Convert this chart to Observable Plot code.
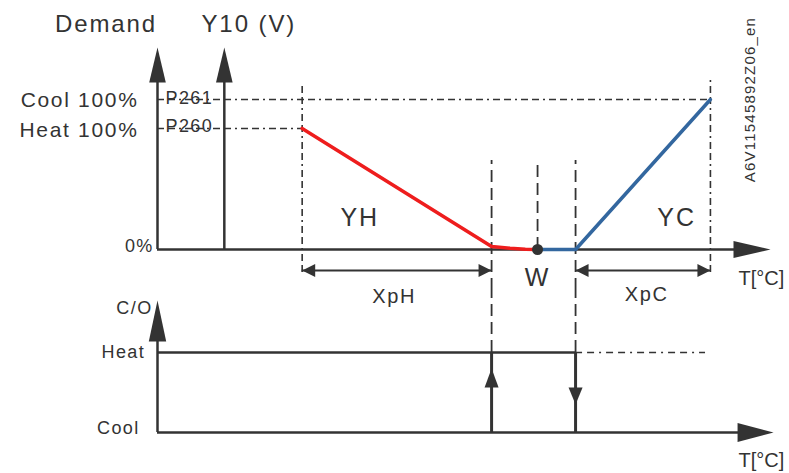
<!DOCTYPE html>
<html><head><meta charset="utf-8">
<script src="https://cdn.jsdelivr.net/npm/d3@7"></script>
<script src="https://cdn.jsdelivr.net/npm/@observablehq/plot@0.6"></script>
<style>
body{margin:0;background:#fff;}
#chart svg{display:block;overflow:visible;}
</style></head><body><div id="chart"></div>
<script>
// Key temperatures along the T axis (relative units: 0 = demand axis, 100 = end of T axis)
const zoneNames = ["XpH start", "W-", "W", "W+", "XpC end"];
const zoneT = [23.6, 54.5, 62.0, 68.2, 90.2];
const y10AxisT = [10.9];
// Heating sequence YH (demand %)
const heatT = [23.6, 54.5, 57.5, 60.0, 62.0];
const heatDemand = [80.7, 2.0, 0.8, 0.2, 0];
// Cooling sequence YC (demand %)
const coolT = [62.0, 68.2, 90.2];
const coolDemand = [0, 0, 100];
// Demand levels
const levelNames = ["0%", "Heat 100%", "Cool 100%"];
const levelValues = [0, 80.7, 100];
const paramNames = ["P260", "P261"];
// Change-over states
const coStates = ["Cool", "Heat"];
const coValues = [0, 1];
const zoneLabels = ["YH", "W", "YC", "XpH", "XpC"];
const axisTitles = ["Demand", "Y10 (V)", "T[°C]", "C/O"];
const docId = "A6V11545892Z06_en";

const INK = "#333333";
const RED = "#ee1d1d";
const BLUE = "#33679f";
const FONT = "'Liberation Sans', Arial, sans-serif";

function head(len, half, dir) {
  return {draw(ctx) {
    ctx.moveTo(0, 0);
    if (dir === "up") { ctx.lineTo(half, len); ctx.lineTo(-half, len); }
    else if (dir === "down") { ctx.lineTo(half, -len); ctx.lineTo(-half, -len); }
    else if (dir === "right") { ctx.lineTo(-len, half); ctx.lineTo(-len, -half); }
    else { ctx.lineTo(len, half); ctx.lineTo(len, -half); }
    ctx.closePath();
  }};
}
const heatPts = heatT.map((t, i) => ({t, d: heatDemand[i]}));
const coolPts = coolT.map((t, i) => ({t, d: coolDemand[i]}));
const DASHDOT = "7,4,7,4,2,4";

const topPlot = Plot.plot({
  width: 789, height: 290, margin: 0,
  x: {domain: [0, 100], range: [157, 770], axis: null},
  y: {domain: [0, 100], range: [249, 99], axis: null},
  style: {fontFamily: FONT, background: "transparent", color: INK, overflow: "visible"},
  marks: [
    Plot.ruleY([levelValues[2]], {x1: 0, x2: zoneT[4], stroke: INK, strokeWidth: 1.6, strokeDasharray: DASHDOT}),
    Plot.ruleY([levelValues[1]], {x1: 0, x2: zoneT[0], stroke: INK, strokeWidth: 1.6, strokeDasharray: DASHDOT}),
    Plot.ruleX([zoneT[0]], {y1: -15.3, y2: 109.3, stroke: INK, strokeWidth: 1.6, strokeDasharray: DASHDOT}),
    Plot.ruleX([zoneT[4]], {y1: -15.3, y2: 113.3, stroke: INK, strokeWidth: 1.6, strokeDasharray: DASHDOT}),
    Plot.ruleX([zoneT[1], zoneT[3]], {y1: -27.4, y2: 59.3, stroke: INK, strokeWidth: 1.8, strokeDasharray: "12,6"}),
    Plot.ruleX([zoneT[2]], {y1: 0, y2: 59.3, stroke: INK, strokeWidth: 1.8, strokeDasharray: "12,6"}),
    Plot.ruleX([0, y10AxisT[0]], {y1: 0, y2: 112, stroke: INK, strokeWidth: 2.5}),
    Plot.ruleY([0], {x1: 0, x2: 95, stroke: INK, strokeWidth: 2.5}),
    Plot.dot([0, y10AxisT[0]], {x: d => d, y: 134.7, r: 1, symbol: head(35, 8.3, "up"), fill: INK, stroke: "none"}),
    Plot.dot([100], {x: d => d, y: 0, r: 1, symbol: head(37, 8.5, "right"), fill: INK, stroke: "none"}),
    Plot.ruleY([-14], {x1: zoneT[0], x2: zoneT[1], stroke: INK, strokeWidth: 2}),
    Plot.ruleY([-14], {x1: zoneT[3], x2: zoneT[4], stroke: INK, strokeWidth: 2}),
    Plot.dot([zoneT[0], zoneT[3]], {x: d => d, y: -14, r: 1, symbol: head(13, 6.5, "left"), fill: INK, stroke: "none"}),
    Plot.dot([zoneT[1], zoneT[4]], {x: d => d, y: -14, r: 1, symbol: head(13, 6.5, "right"), fill: INK, stroke: "none"}),
    Plot.line(heatPts, {x: "t", y: "d", stroke: RED, strokeWidth: 3.5}),
    Plot.line(coolPts, {x: "t", y: "d", stroke: BLUE, strokeWidth: 3.5}),
    Plot.dot([zoneT[2]], {x: d => d, y: 0, r: 5.5, fill: INK, stroke: "none"}),
    Plot.text([axisTitles[0]], {x: -8.4, y: 150, text: d => d, fontSize: 24, fill: INK}),
    Plot.text([axisTitles[1]], {x: 14.9, y: 150, text: d => d, fontSize: 24, fill: INK}),
    Plot.text([levelNames[2]], {x: -3.1, y: 99.3, text: d => d, fontSize: 21, textAnchor: "end", fill: INK}),
    Plot.text([levelNames[1]], {x: -3.1, y: 79.7, text: d => d, fontSize: 21, textAnchor: "end", fill: INK}),
    Plot.text([levelNames[0]], {x: -0.6, y: 2.3, text: d => d, fontSize: 18, textAnchor: "end", fill: INK}),
    Plot.text([paramNames[1]], {x: 1.3, y: 101, text: d => d, fontSize: 18, textAnchor: "start", fill: INK}),
    Plot.text([paramNames[0]], {x: 1.3, y: 82, text: d => d, fontSize: 18, textAnchor: "start", fill: INK}),
    Plot.text([zoneLabels[0]], {x: 33, y: 21, text: d => d, fontSize: 25, fill: INK}),
    Plot.text([zoneLabels[2]], {x: 84.7, y: 20.7, text: d => d, fontSize: 25, fill: INK}),
    Plot.text([zoneLabels[1]], {x: 62.0, y: -19, text: d => d, fontSize: 25, fill: INK}),
    Plot.text([zoneLabels[3]], {x: 38.6, y: -31.3, text: d => d, fontSize: 20, fill: INK}),
    Plot.text([zoneLabels[4]], {x: 79.8, y: -30.3, text: d => d, fontSize: 20, fill: INK}),
    Plot.text([axisTitles[2]], {x: 98.5, y: -19.3, text: d => d, fontSize: 20, fill: INK}),
    Plot.text([docId], {x: 96.7, y: 100, text: d => d, fontSize: 15, rotate: -90, fill: INK})
  ]
});

const bottomPlot = Plot.plot({
  width: 789, height: 183, margin: 0,
  x: {domain: [0, 100], range: [157, 770], axis: null},
  y: {domain: [0, 1], range: [142, 62], axis: null},
  style: {fontFamily: FONT, background: "transparent", color: INK, overflow: "visible"},
  marks: [
    Plot.ruleX([zoneT[1], zoneT[3]], {y1: 1, y2: 1.775, stroke: INK, strokeWidth: 1.8, strokeDasharray: "12,6"}),
    Plot.ruleY([coValues[1]], {x1: zoneT[3], x2: 89.4, stroke: INK, strokeWidth: 1.6, strokeDasharray: "7,5,7,5,2,5"}),
    Plot.ruleY([coValues[1]], {x1: 0, x2: zoneT[3], stroke: INK, strokeWidth: 2.5}),
    Plot.ruleY([coValues[0]], {x1: 0, x2: 96, stroke: INK, strokeWidth: 2.5}),
    Plot.ruleX([0], {y1: 0, y2: 1.2, stroke: INK, strokeWidth: 2.5}),
    Plot.dot([0], {x: d => d, y: 1.65, r: 1, symbol: head(41, 8.7, "up"), fill: INK, stroke: "none"}),
    Plot.dot([100.5], {x: d => d, y: 0, r: 1, symbol: head(36, 9.5, "right"), fill: INK, stroke: "none"}),
    Plot.ruleX([zoneT[1], zoneT[3]], {y1: coValues[0], y2: coValues[1], stroke: INK, strokeWidth: 3}),
    Plot.dot([zoneT[1]], {x: d => d, y: 0.8, r: 1, symbol: head(19, 7, "up"), fill: INK, stroke: "none"}),
    Plot.dot([zoneT[3]], {x: d => d, y: 0.35, r: 1, symbol: head(17, 7, "down"), fill: INK, stroke: "none"}),
    Plot.text([axisTitles[3]], {x: -0.8, y: 1.55, text: d => d, fontSize: 18, textAnchor: "end", fill: INK}),
    Plot.text([coStates[1]], {x: -2.0, y: 1.0, text: d => d, fontSize: 18, textAnchor: "end", fill: INK}),
    Plot.text([coStates[0]], {x: -2.9, y: 0.05, text: d => d, fontSize: 18, textAnchor: "end", fill: INK}),
    Plot.text([axisTitles[2]], {x: 98.5, y: -0.35, text: d => d, fontSize: 20, fill: INK})
  ]
});

for (const svg of [topPlot, bottomPlot]) {
  svg.querySelectorAll("text").forEach(t => {
    if (!t.textContent.startsWith("T[")) t.style.letterSpacing = "0.08em";
  });
}
const chart = document.getElementById("chart");
chart.appendChild(topPlot);
chart.appendChild(bottomPlot);
</script></body></html>
